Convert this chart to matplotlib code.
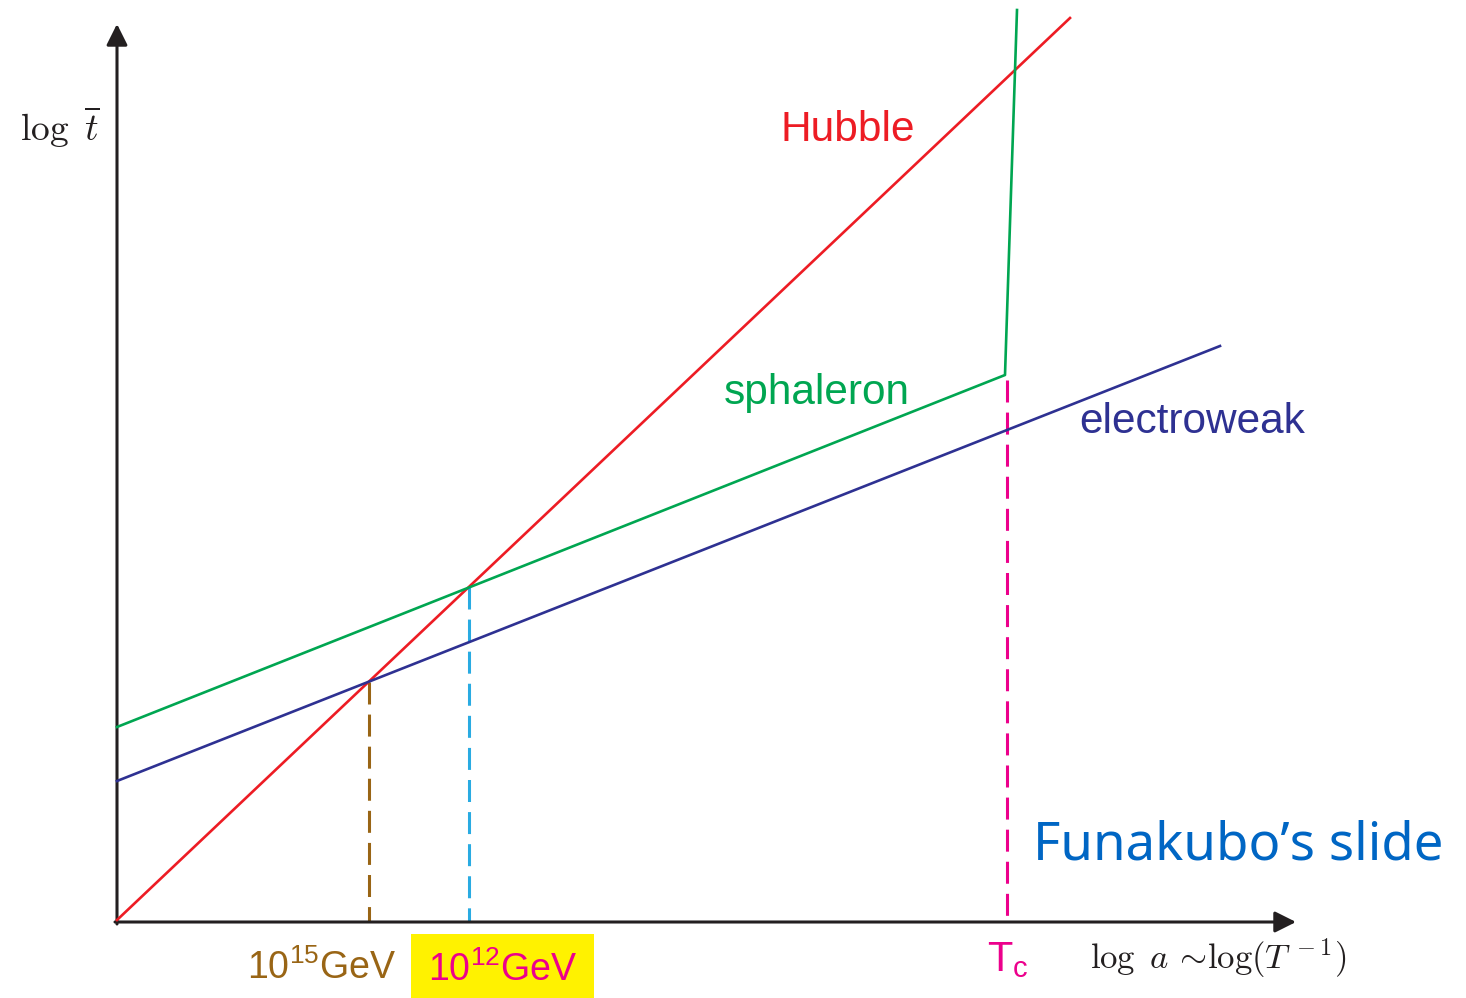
import numpy as np
import matplotlib
matplotlib.use('Agg')
import matplotlib.pyplot as plt

# podaci (proizvoljne jedinice: x = log a, y = log t)
hubble_x = [0.0, 9.53]
hubble_y = [0.02, 9.04]
sphaleron_x = [0.0, 8.88, 9.0]
sphaleron_y = [1.95, 5.47, 9.12]
electroweak_x = [0.0, 11.03]
electroweak_y = [1.41, 5.76]

# presecne tacke (x) za isprekidane linije
x_15gev = 2.52
x_12gev = 3.52
x_tc = 8.90

crvena = '#ED1C24'
zelena = '#00A651'
plava = '#2E3192'
cijan = '#29ABE2'
braon = '#996515'
magenta = '#EC008C'
zuta = '#FFF200'
tekst_plava = '#0066C4'
osa = '#231F20'

plt.rcParams['mathtext.fontset'] = 'custom'
plt.rcParams['mathtext.rm'] = 'Liberation Sans'
plt.rcParams['mathtext.it'] = 'Liberation Sans'

fig = plt.figure(figsize=(14.66, 9.98), dpi=100)
ax = fig.add_axes([0, 0, 1, 1])
ax.set_xlim(-1.17, 13.49)
ax.set_ylim(-0.76, 9.22)
ax.axis('off')

# ose sa strelicama
ax.annotate('', xy=(0, 8.98), xytext=(0, -0.02),
            arrowprops=dict(arrowstyle='-|>', color=osa, lw=2.2,
                            mutation_scale=32, shrinkA=0, shrinkB=0))
ax.annotate('', xy=(11.79, 0.0), xytext=(-0.02, 0.0),
            arrowprops=dict(arrowstyle='-|>', color=osa, lw=2.2,
                            mutation_scale=32, shrinkA=0, shrinkB=0))

# linije
ax.plot(hubble_x, hubble_y, color=crvena, lw=1.9, zorder=3)
ax.plot(sphaleron_x, sphaleron_y, color=zelena, lw=1.9, zorder=3)
ax.plot(electroweak_x, electroweak_y, color=plava, lw=1.9, zorder=3)

# isprekidane vertikalne linije do preseka
crtice = (0, (7.2, 3.3))
y_15 = np.interp(x_15gev, electroweak_x, electroweak_y)
y_12 = np.interp(x_12gev, sphaleron_x[:2], sphaleron_y[:2])
y_tc = np.interp(x_tc, sphaleron_x[:2], sphaleron_y[:2])
ax.plot([x_15gev, x_15gev], [y_15, 0], color=braon, lw=2.2, ls=crtice, zorder=2)
ax.plot([x_12gev, x_12gev], [y_12, 0], color=cijan, lw=2.2, ls=crtice, zorder=2)
ax.plot([x_tc, x_tc], [y_tc - 0.05, 0], color=magenta, lw=2.2, ls=crtice, zorder=2)

# natpisi
sans = 'Liberation Sans'
ax.text(6.64, 7.92, 'Hubble', color=crvena, fontsize=30.5, family=sans, va='center')
ax.text(6.07, 5.29, 'sphaleron', color=zelena, fontsize=30.5, family=sans, va='center')
ax.text(9.62, 5.00, 'electroweak', color=plava, fontsize=30.5, family=sans, va='center')
ax.text(9.16, 0.76, 'Funakubo\u2019s slide', color=tekst_plava, fontsize=38,
        family='Noto Sans', va='center')

ax.text(-0.97, 7.95, r'$\log\ \overline{t}$', fontsize=27, color=osa, va='center',
        math_fontfamily='cm')
ax.text(9.73, -0.36, r'$\log\ a\,{\sim}\!\log(T^{\,-1})$', fontsize=25, color=osa,
        va='center', math_fontfamily='cm')

ax.text(1.30, -0.46, r'10$^\mathregular{15}$GeV', color=braon, fontsize=27, family=sans,
        va='center')
ax.text(3.11, -0.48, r'10$^\mathregular{12}$GeV', color=magenta, fontsize=27, family=sans,
        va='center', bbox=dict(boxstyle='square,pad=0.45', fc=zuta, ec='none'))
ax.text(8.70, -0.38, r'T$_\mathregular{c}$', color=magenta, fontsize=30, family=sans,
        va='center')

fig.savefig('out.png', dpi=100)
